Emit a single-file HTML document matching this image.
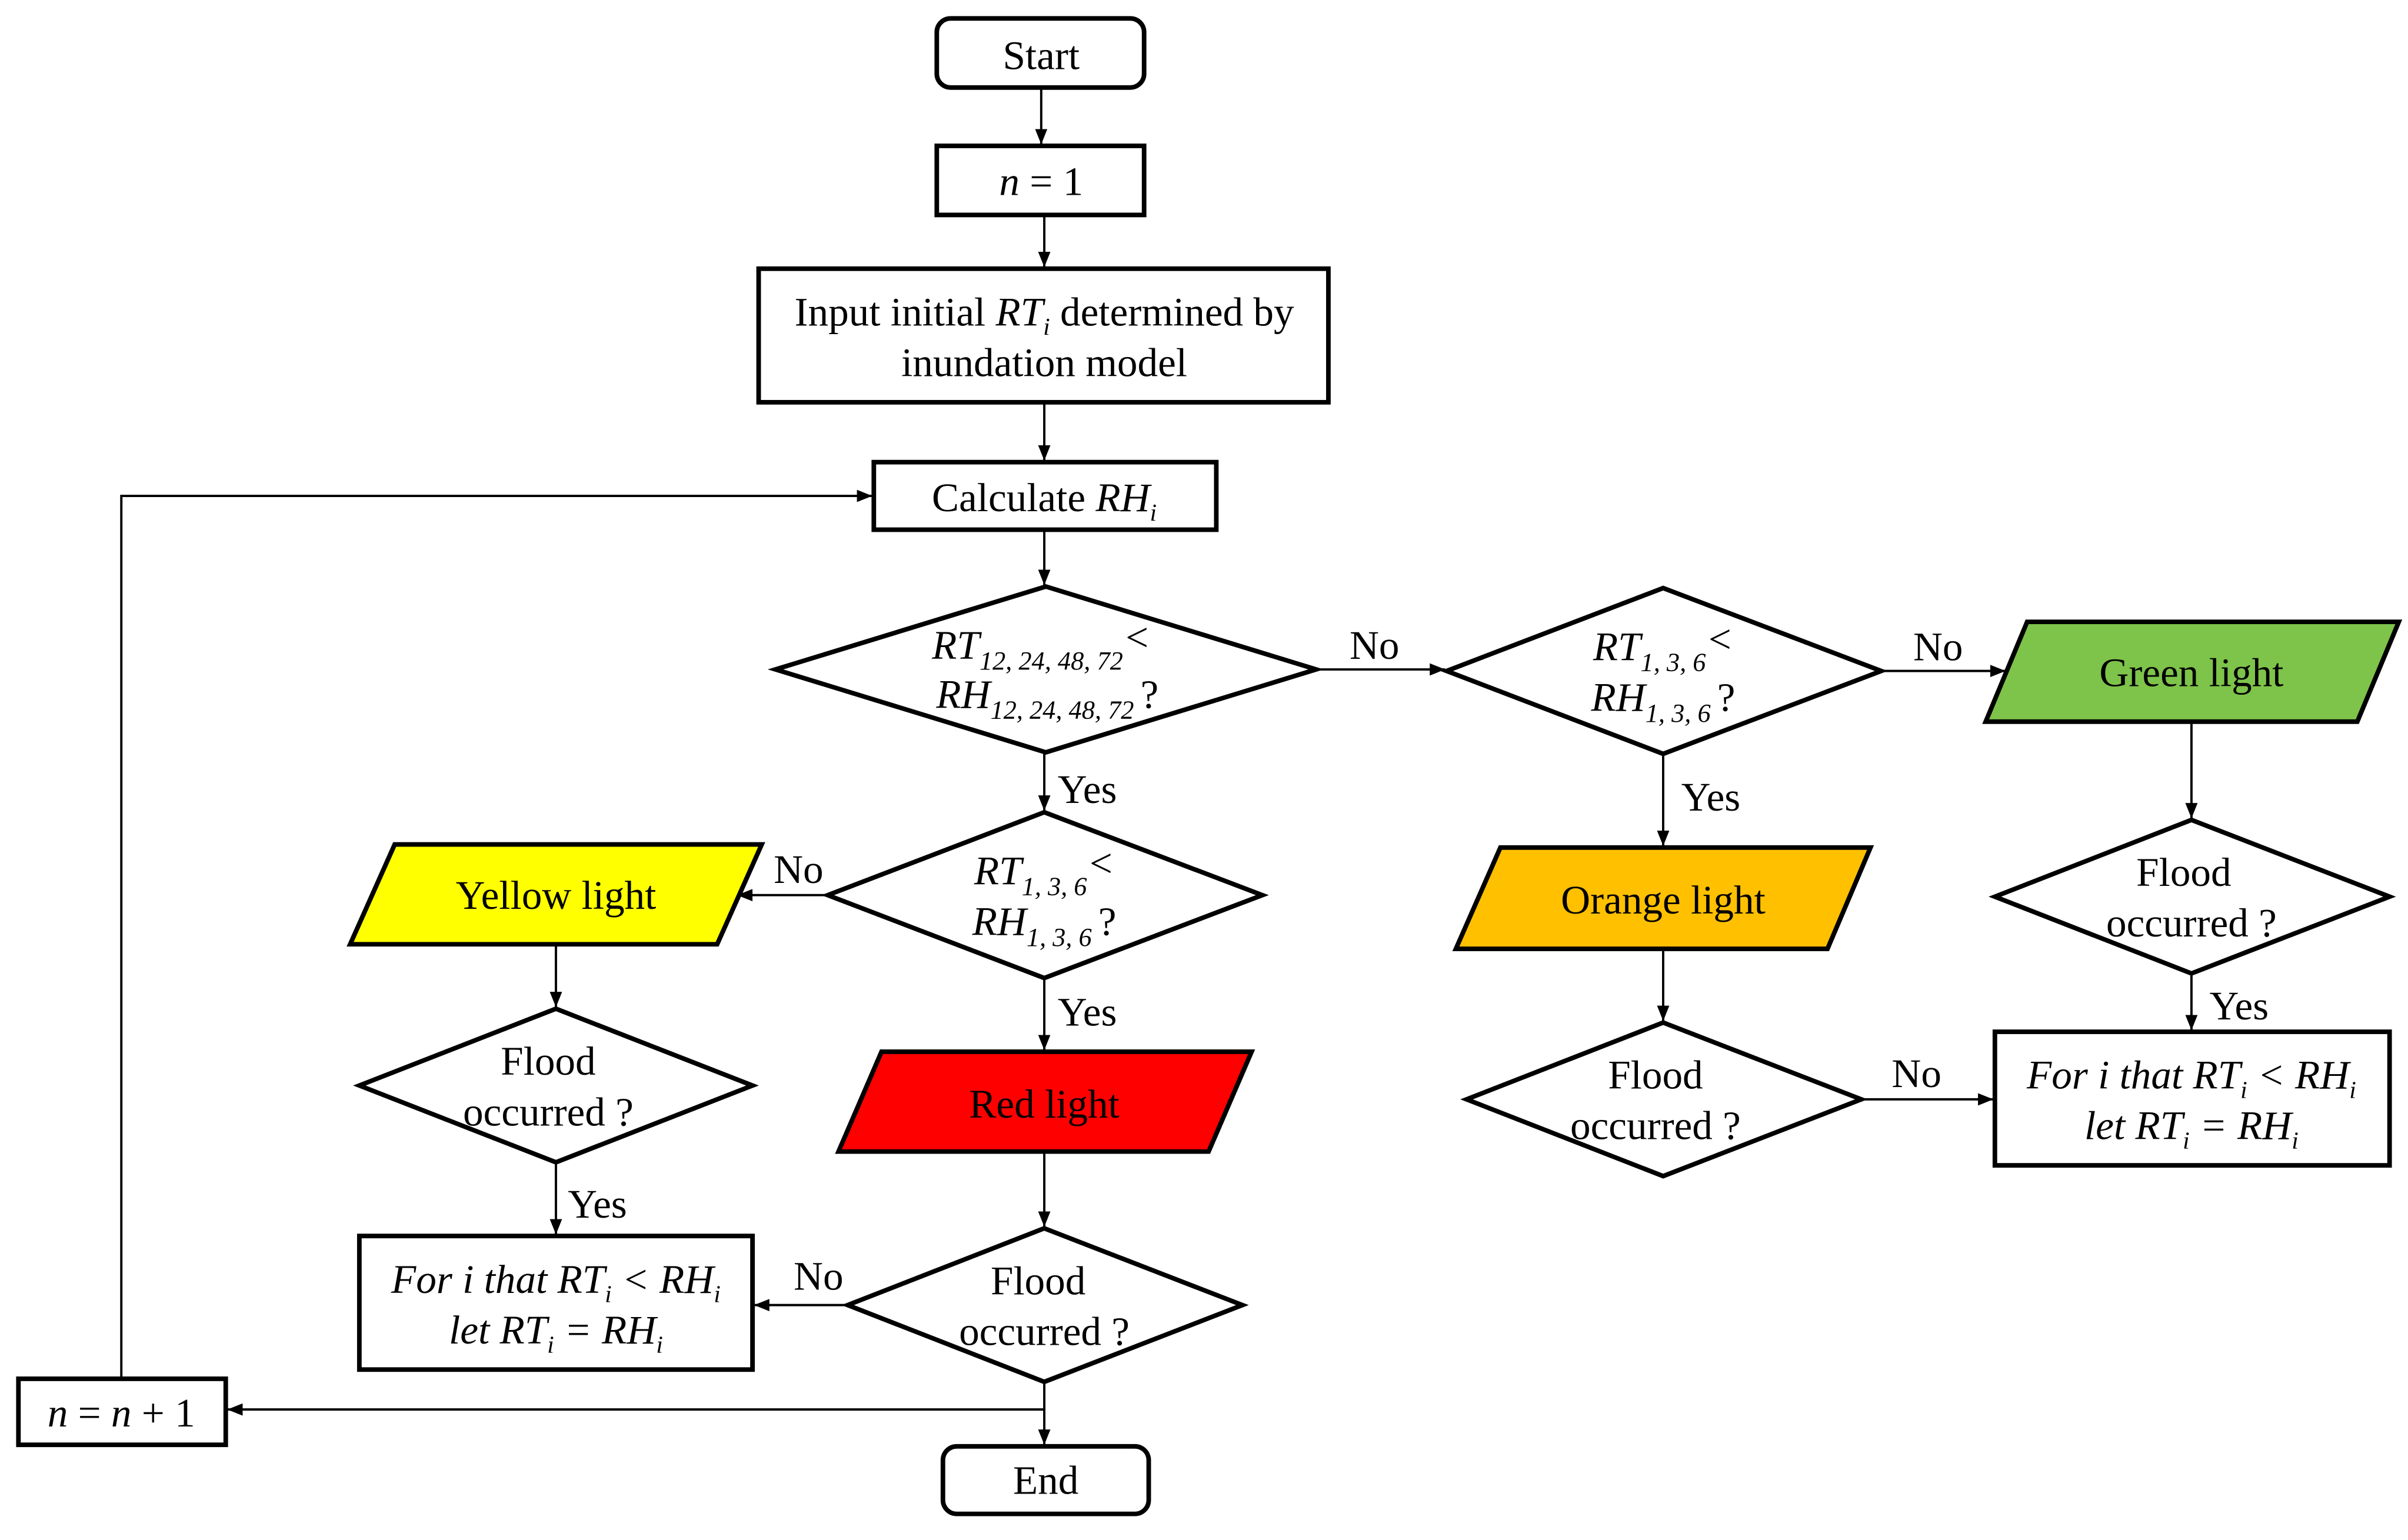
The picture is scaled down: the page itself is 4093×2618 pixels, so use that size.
<!DOCTYPE html>
<html><head><meta charset="utf-8"><style>html,body{margin:0;padding:0;background:#fff}svg{display:block}</style></head>
<body>
<svg width="4093" height="2618" viewBox="0 0 1568 1003" preserveAspectRatio="none" xmlns="http://www.w3.org/2000/svg" font-family="Liberation Serif, serif" font-size="26.5">
<defs><marker id="a" markerWidth="10" markerHeight="8" refX="10" refY="4" orient="auto" markerUnits="userSpaceOnUse"><path d="M0,0 L10,4 L0,8 Z" fill="#000"/></marker></defs>
<g stroke="#000" stroke-width="3" fill="#fff">
<rect x="610" y="12" width="135" height="45" rx="9"/>
<rect x="610" y="95" width="135" height="45"/>
<rect x="494" y="175" width="371" height="87"/>
<rect x="569" y="301" width="223" height="44"/>
<polygon points="505,436 681,382 857,436 681,490"/>
<polygon points="942,437 1083,383 1225,437 1083,491"/>
<polygon points="1320,405 1562,405 1535,470 1293,470" fill="#7ec34a"/>
<polygon points="539,583 680,529 822,583 680,637"/>
<polygon points="257,550 496,550 467,615 228,615" fill="#ffff00"/>
<polygon points="977,552 1218,552 1190,618 948,618" fill="#ffc000"/>
<polygon points="574,685 815,685 787,750 546,750" fill="#ff0000"/>
<polygon points="234,707 362,657 490,707 362,757"/>
<polygon points="955,716 1083,666 1212,716 1083,766"/>
<polygon points="1299,584 1427,534 1556,584 1427,634"/>
<polygon points="552,850 680,800 809,850 680,900"/>
<rect x="234" y="805" width="256" height="87"/>
<rect x="1299" y="672" width="257" height="87"/>
<rect x="12" y="898" width="135" height="43"/>
<rect x="614" y="942" width="134" height="44" rx="9"/>
</g>
<g fill="none" stroke="#000" stroke-width="1.5" marker-end="url(#a)">
<line x1="678" y1="57" x2="678" y2="94"/>
<line x1="680" y1="140" x2="680" y2="174"/>
<line x1="680" y1="262" x2="680" y2="300"/>
<line x1="680" y1="345" x2="680" y2="381"/>
<line x1="857" y1="436" x2="941" y2="436"/>
<line x1="1225" y1="437" x2="1306" y2="437"/>
<line x1="1427" y1="470" x2="1427" y2="533"/>
<line x1="1427" y1="634" x2="1427" y2="671"/>
<line x1="1083" y1="491" x2="1083" y2="551"/>
<line x1="1083" y1="618" x2="1083" y2="665"/>
<line x1="1212" y1="716" x2="1298" y2="716"/>
<line x1="680" y1="490" x2="680" y2="528"/>
<line x1="539" y1="583" x2="480" y2="583"/>
<line x1="680" y1="637" x2="680" y2="684"/>
<line x1="362" y1="615" x2="362" y2="656"/>
<line x1="362" y1="757" x2="362" y2="804"/>
<line x1="680" y1="750" x2="680" y2="799"/>
<line x1="552" y1="850" x2="491" y2="850"/>
<line x1="680" y1="900" x2="680" y2="941"/>
<polyline points="680,918 148,918"/>
<polyline points="79,898 79,323 568,323"/>
</g>
<g fill="#000" text-anchor="middle">
<text x="678" y="45">Start</text>
<text x="678" y="127"><tspan font-style="italic">n</tspan> = 1</text>
<text x="680" y="212">Input initial <tspan font-style="italic">RT</tspan><tspan font-style="italic" font-size="16" dy="6">i</tspan><tspan dy="-6"> determined by</tspan></text>
<text x="680" y="245">inundation model</text>
<text x="680" y="333">Calculate <tspan font-style="italic">RH</tspan><tspan font-style="italic" font-size="16" dy="6">i</tspan></text>
<text x="678" y="429" font-style="italic">RT<tspan font-size="17" dy="7">12, 24, 48, 72</tspan><tspan dy="-12">&lt;</tspan></text>
<text x="682" y="461" font-style="italic">RH<tspan font-size="17" dy="7">12, 24, 48, 72 </tspan><tspan dy="-7" font-style="normal"> ?</tspan></text>
<text x="1083" y="430" font-style="italic">RT<tspan font-size="17" dy="7">1, 3, 6</tspan><tspan dy="-12">&lt;</tspan></text>
<text x="1083" y="463" font-style="italic">RH<tspan font-size="17" dy="7">1, 3, 6 </tspan><tspan dy="-7" font-style="normal">?</tspan></text>
<text x="680" y="576" font-style="italic">RT<tspan font-size="17" dy="7">1, 3, 6</tspan><tspan dy="-12">&lt;</tspan></text>
<text x="680" y="609" font-style="italic">RH<tspan font-size="17" dy="7">1, 3, 6 </tspan><tspan dy="-7" font-style="normal">?</tspan></text>
<text x="1427" y="447">Green light</text>
<text x="362" y="592">Yellow light</text>
<text x="1083" y="595">Orange light</text>
<text x="680" y="728">Red light</text>
<text x="357" y="700">Flood</text><text x="357" y="733">occurred ?</text>
<text x="1078" y="709">Flood</text><text x="1078" y="742">occurred ?</text>
<text x="1422" y="577">Flood</text><text x="1427" y="610">occurred ?</text>
<text x="676" y="843">Flood</text><text x="680" y="876">occurred ?</text>
<text x="362" y="842" font-style="italic">For i that RT<tspan font-size="16" dy="6">i</tspan><tspan dy="-6"> &lt; RH</tspan><tspan font-size="16" dy="6">i</tspan></text>
<text x="362" y="875" font-style="italic">let RT<tspan font-size="16" dy="6">i</tspan><tspan dy="-6"> = RH</tspan><tspan font-size="16" dy="6">i</tspan></text>
<text x="1427" y="709" font-style="italic">For i that RT<tspan font-size="16" dy="6">i</tspan><tspan dy="-6"> &lt; RH</tspan><tspan font-size="16" dy="6">i</tspan></text>
<text x="1427" y="742" font-style="italic">let RT<tspan font-size="16" dy="6">i</tspan><tspan dy="-6"> = RH</tspan><tspan font-size="16" dy="6">i</tspan></text>
<text x="79" y="929"><tspan font-style="italic">n</tspan> = <tspan font-style="italic">n</tspan> + 1</text>
<text x="681" y="973">End</text>
<text x="895" y="429">No</text>
<text x="1262" y="430">No</text>
<text x="1458" y="664">Yes</text>
<text x="1114" y="528">Yes</text>
<text x="1248" y="708">No</text>
<text x="708" y="523">Yes</text>
<text x="520" y="575">No</text>
<text x="708" y="668">Yes</text>
<text x="389" y="793">Yes</text>
<text x="533" y="840">No</text>
</g>
</svg>
</body></html>
